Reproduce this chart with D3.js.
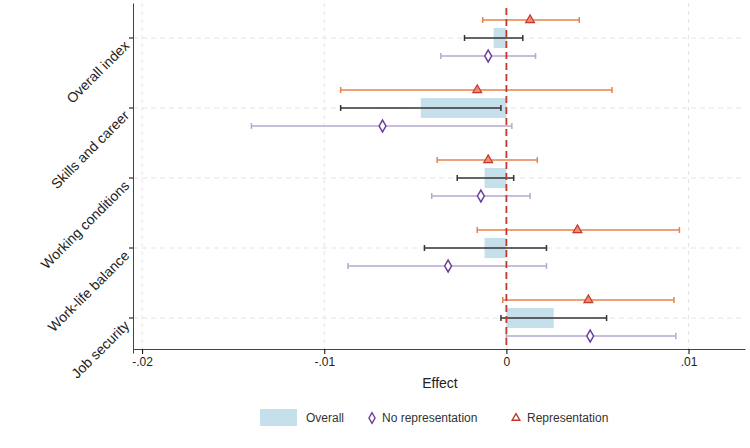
<!DOCTYPE html><html><head><meta charset="utf-8"><script src="https://d3js.org/d3.v7.min.js"></script>
<style>body{margin:0;background:#fff}text{font-family:"Liberation Sans",Arial,sans-serif}</style></head><body><svg id="c" width="750" height="448"></svg>
<script>
const categories=["Overall index","Skills and career","Working conditions","Work-life balance","Job security"];
const overall=[-0.0007,-0.0047,-0.0012,-0.0012,0.0026];
const overallLo=[-0.0023,-0.0091,-0.0027,-0.0045,-0.0003];
const overallHi=[0.0009,-0.0003,0.0004,0.0022,0.0055];
const noRep=[-0.0010,-0.0068,-0.0014,-0.0032,0.0046];
const noRepLo=[-0.0036,-0.0140,-0.0041,-0.0087,0.0000];
const noRepHi=[0.0016,0.0003,0.0013,0.0022,0.0093];
const rep=[0.0013,-0.0016,-0.0010,0.0039,0.0045];
const repLo=[-0.0013,-0.0091,-0.0038,-0.0016,-0.0002];
const repHi=[0.0040,0.0058,0.0017,0.0095,0.0092];
const xTicks=[-0.02,-0.01,0,0.01];
const xTickLabels=["-.02","-.01","0",".01"];

const svg=d3.select("#c");
const L=133,R=745,T=3,B=349;
const x=d3.scaleLinear().domain([-0.0205,0.0131]).range([L,R]);
const y=d3.scaleBand().domain(categories).range([T,B+4]).padding(0);
const yc=c=>y(c)+y.bandwidth()/2;
const off=18;
// gridlines
xTicks.forEach(t=>{if(t!==0)svg.append("line").attr("x1",x(t)).attr("x2",x(t)).attr("y1",T).attr("y2",B).attr("stroke","#e4e4e4").attr("stroke-dasharray","4,4");});
categories.forEach(c=>svg.append("line").attr("x1",L).attr("x2",R).attr("y1",yc(c)).attr("y2",yc(c)).attr("stroke","#e4e4e4").attr("stroke-dasharray","5,4"));
// bars
categories.forEach((c,i)=>{const a=Math.min(0,overall[i]),b=Math.max(0,overall[i]);
svg.append("rect").attr("x",x(a)).attr("width",x(b)-x(a)).attr("y",yc(c)-10).attr("height",20).attr("fill","#c5e0ea");});
function ci(lo,hi,yy,col,w){svg.append("line").attr("x1",x(lo)).attr("x2",x(hi)).attr("y1",yy).attr("y2",yy).attr("stroke",col).attr("stroke-width",w);
[lo,hi].forEach(v=>svg.append("line").attr("x1",x(v)).attr("x2",x(v)).attr("y1",yy-3).attr("y2",yy+3).attr("stroke",col).attr("stroke-width",w));}
categories.forEach((c,i)=>{
ci(repLo[i],repHi[i],yc(c)-off,"#e8804f",1.5);
ci(overallLo[i],overallHi[i],yc(c),"#333",1.5);
ci(noRepLo[i],noRepHi[i],yc(c)+off,"#b6a9cc",1.5);
});
// zero line
svg.append("line").attr("x1",x(0)).attr("x2",x(0)).attr("y1",T+5).attr("y2",B).attr("stroke","#c0392b").attr("stroke-width",1.8).attr("stroke-dasharray","7,4");
categories.forEach((c,i)=>{
svg.append("path").attr("d",d3.symbol(d3.symbolTriangle,34)()).attr("transform",`translate(${x(rep[i])},${yc(c)-off})`).attr("fill","#f08a70").attr("stroke","#c0392b").attr("stroke-width",1.2);
svg.append("path").attr("d",d3.symbol(d3.symbolDiamond,40)()).attr("transform",`translate(${x(noRep[i])},${yc(c)+off})`).attr("fill","#fff").attr("stroke","#6a3d9a").attr("stroke-width",1.5);
});
// axes
const xa=svg.append("g").attr("transform",`translate(0,${B})`).call(d3.axisBottom(x).tickValues(xTicks).tickFormat((d,i)=>xTickLabels[i]).tickSize(5).tickSizeOuter(0));
xa.selectAll("text").attr("font-size",12).attr("fill","#222");
xa.select(".domain").attr("stroke","#444");
const ya=svg.append("g").attr("transform",`translate(${L},0)`).call(d3.axisLeft(y).tickSize(4).tickSizeOuter(0));
ya.select(".domain").attr("stroke","#444");
ya.selectAll("text").attr("font-size",14).attr("fill","#222").attr("text-anchor","end").attr("dx",0).attr("dy",0).attr("x",-8).attr("y",4).attr("transform","rotate(-45)");
svg.append("text").attr("x",440).attr("y",388).attr("text-anchor","middle").attr("font-size",14).attr("fill","#222").text("Effect");
// legend
const lg=svg.append("g");
lg.append("rect").attr("x",260).attr("y",409).attr("width",37).attr("height",17).attr("fill","#c5e0ea");
lg.append("text").attr("x",306).attr("y",422).attr("font-size",12).attr("fill","#333").text("Overall");
lg.append("path").attr("d",d3.symbol(d3.symbolDiamond,32)()).attr("transform","translate(372,418)").attr("fill","#fff").attr("stroke","#6a3d9a").attr("stroke-width",1.4);
lg.append("text").attr("x",382).attr("y",422).attr("font-size",12).attr("fill","#333").text("No representation");
lg.append("path").attr("d",d3.symbol(d3.symbolTriangle,26)()).attr("transform","translate(516,418)").attr("fill","#fff").attr("stroke","#c0392b").attr("stroke-width",1.4);
lg.append("text").attr("x",527).attr("y",422).attr("font-size",12).attr("fill","#333").text("Representation");
</script></body></html>
